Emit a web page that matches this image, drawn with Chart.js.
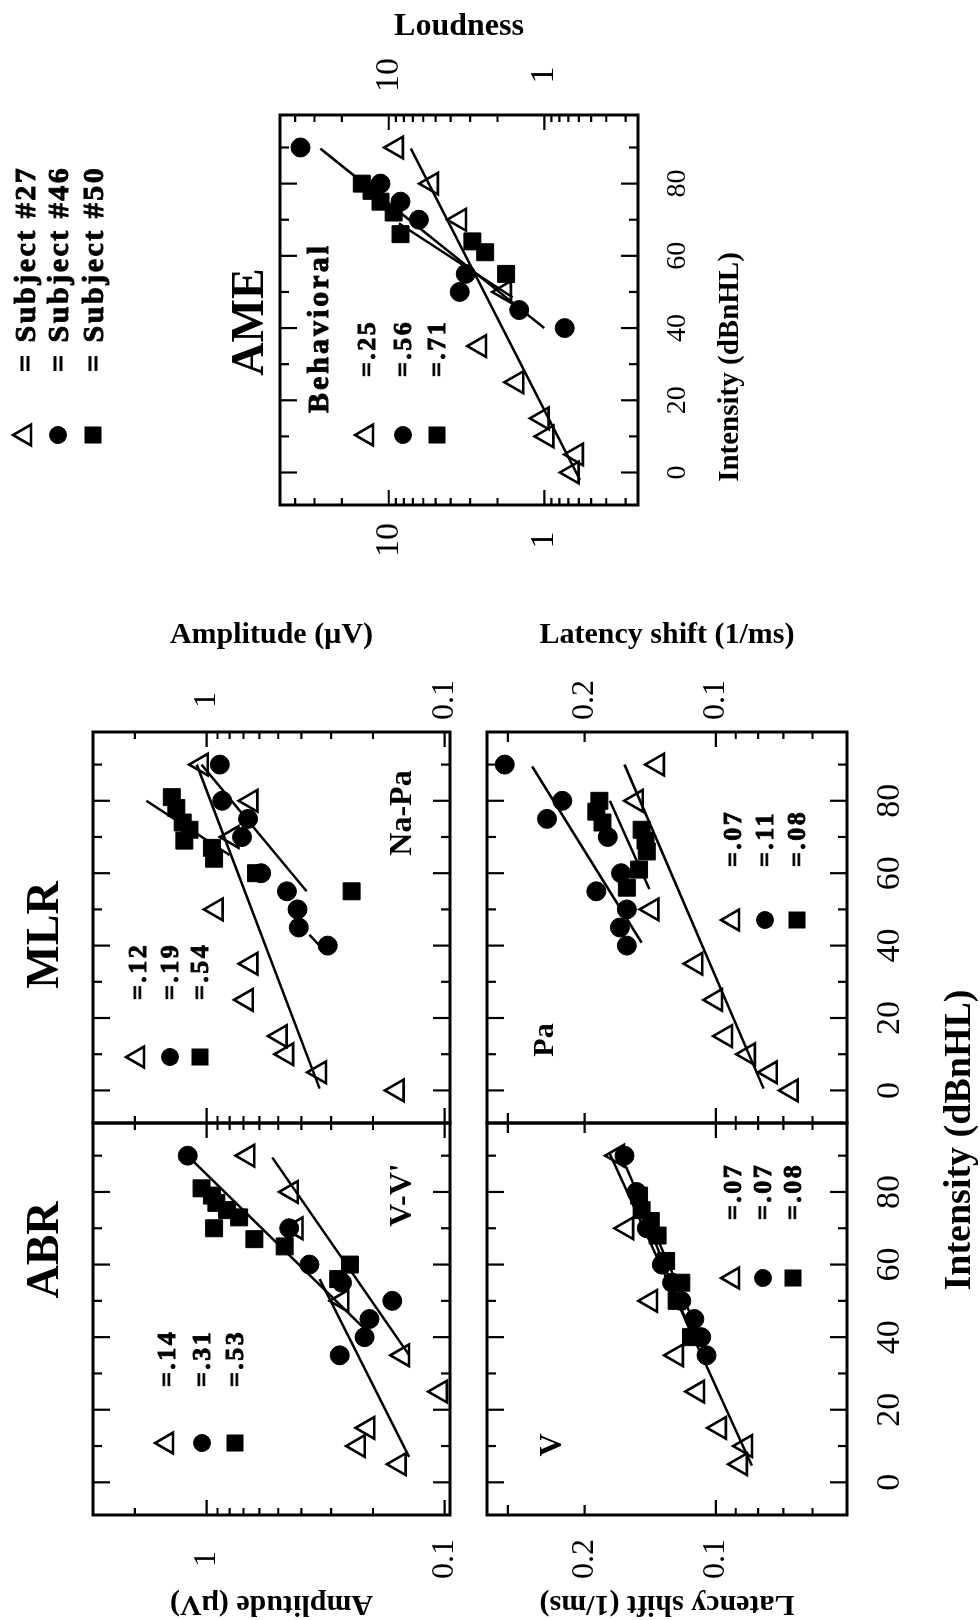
<!DOCTYPE html>
<html>
<head>
<meta charset="utf-8">
<script src="https://cdn.jsdelivr.net/npm/chart.js@4.4.1/dist/chart.umd.min.js"></script>
<style>
  html, body { margin: 0; padding: 0; background: #fff; overflow: hidden; width: 980px; height: 1620px; }
  /* the figure is laid out upright (1620 x 980) and turned a quarter turn, like the scan */
  #fig { position: absolute; left: 0; top: 0; width: 1620px; height: 980px; background: #fff;
         transform-origin: 0 0; transform: translateY(1620px) rotate(-90deg);
         font-family: "Liberation Serif", "Times New Roman", serif; color: #000; }
  #fig canvas { position: absolute; }
  .t { position: absolute; white-space: nowrap; font-weight: bold; line-height: 1; }
  .heavy { -webkit-text-stroke: 0.9px #000; }
</style>
</head>
<body>
<div id="fig"></div>
<script>
// ---- values: intensity (dBnHL) and response ----
// ABR, V-V' amplitude (uV)
const abrTriX = [90, 80, 70, 50, 35, 25, 15, 10, 5];
const abrTriY = [0.67, 0.44, 0.42, 0.27, 0.15, 0.104, 0.21, 0.23, 0.155];
const abrCirX = [90, 70, 60, 55, 50, 45, 40, 35];
const abrCirY = [1.2, 0.45, 0.37, 0.27, 0.166, 0.207, 0.217, 0.276];
const abrSqX = [81, 79, 77, 75, 73, 70, 67, 65, 60, 56];
const abrSqY = [1.05, 0.95, 0.91, 0.82, 0.73, 0.93, 0.63, 0.47, 0.25, 0.28];
const abrFit1X = [89.5, 40], abrFit1Y = [1.18, 0.2];
const abrFit2X = [89.5, 35], abrFit2Y = [0.53, 0.141];
const abrFit3X = [56, 7], abrFit3Y = [0.335, 0.141];

// MLR, Na-Pa amplitude (uV)
const mlrTriX = [90, 80, 70, 50, 35, 25, 15, 10, 5, 0];
const mlrTriY = [1.05, 0.65, 0.78, 0.91, 0.65, 0.68, 0.49, 0.46, 0.335, 0.158];
const mlrCirX = [90, 80, 75, 70, 60, 55, 50, 45, 40];
const mlrCirY = [0.88, 0.86, 0.67, 0.71, 0.59, 0.46, 0.415, 0.41, 0.31];
const mlrSqX = [81, 78, 74, 72, 69, 67, 64, 60, 55];
const mlrSqY = [1.4, 1.34, 1.26, 1.18, 1.24, 0.95, 0.93, 0.62, 0.246];
const mlrFit1X = [90, 0.5], mlrFit1Y = [1.1, 0.335];
const mlrFit2X = [90, 55], mlrFit2Y = [1.05, 0.38];
const mlrFit3X = [80, 65], mlrFit3Y = [1.79, 0.8];
const mlrFit4X = [43, 38.6], mlrFit4Y = [0.37, 0.32];

// ABR wave V latency shift (1/ms)
const vTriX = [90, 70, 50, 35, 25, 15, 10, 5];
const vTriY = [0.168, 0.16, 0.141, 0.123, 0.11, 0.098, 0.0854, 0.0877];
const vCirX = [90, 80, 70, 60, 55, 50, 45, 40, 35];
const vCirY = [0.162, 0.152, 0.144, 0.133, 0.126, 0.12, 0.112, 0.108, 0.105];
const vSqX = [79, 75, 72, 68, 61, 55, 50, 40];
const vSqY = [0.15, 0.148, 0.141, 0.136, 0.13, 0.12, 0.123, 0.114];
const vFit1X = [90.5, 4.6], vFit1Y = [0.175, 0.0827];
const vFit2X = [90, 35], vFit2Y = [0.165, 0.104];
const vFit3X = [80, 40], vFit3Y = [0.153, 0.113];

// MLR wave Pa latency shift (1/ms)
const paTriX = [90, 80, 50, 35, 25, 15, 10, 5, 0];
const paTriY = [0.136, 0.152, 0.14, 0.111, 0.1, 0.0949, 0.0841, 0.0749, 0.0671];
const paCirX = [90, 80, 75, 70, 60, 55, 50, 45, 40];
const paCirY = [0.305, 0.225, 0.244, 0.177, 0.165, 0.188, 0.16, 0.166, 0.16];
const paSqX = [80, 77, 74, 72, 69, 66, 61, 56];
const paSqY = [0.185, 0.188, 0.182, 0.148, 0.145, 0.144, 0.15, 0.16];
const paFit1X = [89.5, 40.8], paFit1Y = [0.264, 0.148];
const paFit2X = [80, 55.6], paFit2Y = [0.175, 0.142];
const paFit3X = [90, 0.5], paFit3Y = [0.162, 0.0777];

// AME, behavioral loudness
const ameTriX = [90, 80, 70, 50, 35, 25, 15, 10, 5, 0];
const ameTriY = [8.9, 5.3, 3.5, 1.8, 2.6, 1.5, 1.03, 0.96, 0.62, 0.66];
const ameCirX = [90, 80, 75, 70, 55, 50, 45, 40];
const ameCirY = [36.9, 11.3, 8.4, 6.4, 3.2, 3.5, 1.45, 0.74];
const ameSqX = [80, 78, 75, 72, 66, 64, 61, 55];
const ameSqY = [14.9, 12.9, 11.3, 9.3, 8.4, 2.9, 2.4, 1.76];
const ameFit1X = [89.7, 40], ameFit1Y = [27.5, 1.0];
const ameFit2X = [89.7, -2], ameFit2Y = [7.2, 0.59];
const ameFit3X = [69, 48.5], ameFit3Y = [8.6, 1.6];

// ---- axes ----
const intensityTicks = [0, 20, 40, 60, 80];
const intensityMarks = [0, 10, 20, 30, 40, 50, 60, 70, 80, 90];
const amplitudeTicks = [1, 0.1], amplitudeLabels = ['1', '0.1'];
const latencyTicks = [0.2, 0.1], latencyLabels = ['0.2', '0.1'];
const loudnessTicks = [10, 1], loudnessLabels = ['10', '1'];

const FONT = '"Liberation Serif", "Times New Roman", serif';
Chart.defaults.font.family = FONT;
Chart.defaults.color = '#000';

const fig = document.getElementById('fig');
const pts = (xs, ys) => xs.map((x, i) => ({ x: x, y: ys[i] }));

function tri(xs, ys) {
  return { data: pts(xs, ys), showLine: false, pointStyle: 'triangle', pointRadius: 12.5,
           borderWidth: 2.6, borderColor: '#000', backgroundColor: 'rgba(0,0,0,0)', clip: false };
}
function dot(xs, ys) {
  return { data: pts(xs, ys), showLine: false, pointStyle: 'circle', pointRadius: 9.5,
           borderWidth: 1, borderColor: '#000', backgroundColor: '#000', clip: false };
}
function sq(xs, ys) {
  return { data: pts(xs, ys), showLine: false, pointStyle: 'rect', pointRadius: 12,
           borderWidth: 1, borderColor: '#000', backgroundColor: '#000', clip: false };
}
function fit(xs, ys) {
  return { data: pts(xs, ys), showLine: true, pointRadius: 0, borderWidth: 2.5,
           borderColor: '#000', fill: false };
}

// box and inward tick marks on all four sides
const frame = {
  id: 'frame',
  beforeDatasetsDraw(chart, args, o) {
    const { ctx, chartArea: a, scales } = chart;
    const ys = scales.y;
    ctx.save();
    ctx.strokeStyle = '#000';
    ctx.lineWidth = 2.2;
    ctx.beginPath();
    intensityMarks.forEach(v => {
      const x = scales.x.getPixelForValue(v);
      const len = v % 20 === 0 ? 17 : 9;
      ctx.moveTo(x, a.bottom); ctx.lineTo(x, a.bottom - len);
      ctx.moveTo(x, a.top); ctx.lineTo(x, a.top + len);
    });
    const e0 = Math.floor(Math.log10(ys.min)), e1 = Math.ceil(Math.log10(ys.max));
    for (let e = e0; e <= e1; e++) {
      for (let d = 1; d <= 9; d++) {
        const v = d * Math.pow(10, e);
        if (v < ys.min || v > ys.max) continue;
        const y = ys.getPixelForValue(v);
        const len = d === 1 ? 15 : (o.mid && o.mid.includes(d) ? 10 : 7);
        ctx.moveTo(a.left, y); ctx.lineTo(a.left + len, y);
        ctx.moveTo(a.right, y); ctx.lineTo(a.right - len, y);
      }
    }
    ctx.stroke();
    ctx.lineWidth = 3;
    ctx.strokeRect(a.left, a.top, a.right - a.left, a.bottom - a.top);
    ctx.restore();
  }
};

// fixed axis sizes, and no extra room asked for by the tick labels
function fixSize(s, w, h) {
  if (w !== null) s.width = w;
  if (h !== null) s.height = h;
  s.paddingTop = 0; s.paddingBottom = 0; s.paddingLeft = 0; s.paddingRight = 0;
}

const PAD = 6;
function logAxis(pos, width, range, vals, labels, pad, size, title) {
  return {
    type: 'logarithmic', position: pos, min: range[0], max: range[1], bounds: 'data',
    display: width > 0,
    afterFit: s => fixSize(s, width, null),
    afterBuildTicks: s => { s.ticks = vals.map(v => ({ value: v })); },
    ticks: { autoSkip: false, padding: pad, crossAlign: 'center', color: '#000',
             font: { size: size, family: FONT },
             callback: v => labels[vals.indexOf(v)] },
    grid: { display: false, drawTicks: false },
    border: { display: false },
    title: title ? { display: true, text: title.text, color: '#000', padding: { top: title.pad, bottom: 0 },
                     font: { size: title.size, weight: 'bold', family: FONT } } : { display: false }
  };
}

function panel(p) {
  const cl = p.L - (p.left || PAD), ct = p.T - PAD;
  const cr = p.R + (p.right || PAD), cb = p.B + (p.bottom || PAD);
  const cv = document.createElement('canvas');
  cv.width = cr - cl; cv.height = cb - ct;
  cv.style.left = cl + 'px'; cv.style.top = ct + 'px';
  fig.appendChild(cv);
  const yl = p.yl || {}, yr = p.yr || {};
  new Chart(cv, {
    type: 'scatter',
    data: { datasets: p.sets },
    options: {
      responsive: false, animation: false, devicePixelRatio: 1, events: [],
      layout: { autoPadding: false,
                padding: { left: p.left ? 0 : PAD, right: p.right ? 0 : PAD, top: PAD, bottom: p.bottom ? 0 : PAD } },
      plugins: { legend: { display: false }, tooltip: { enabled: false }, frame: { mid: p.mid } },
      scales: {
        x: {
          type: 'linear', position: 'bottom', min: -9, max: 99, bounds: 'data',
          display: (p.bottom || 0) > 0,
          afterFit: s => fixSize(s, null, p.bottom || 0),
          afterBuildTicks: s => { s.ticks = intensityTicks.map(v => ({ value: v })); },
          ticks: { autoSkip: false, maxRotation: 0, padding: p.xPad || 0, color: '#000',
                   font: { size: p.xSize || 34, family: FONT }, callback: v => String(v) },
          grid: { display: false, drawTicks: false },
          border: { display: false }
        },
        y: logAxis('left', p.left || 0, p.range, p.vals, p.labels, yl.pad || 0, yl.size || 32, yl.title),
        y2: logAxis('right', p.right || 0, p.range, p.vals, p.labels, yr.pad || 0, yr.size || 32, yr.title)
      }
    },
    plugins: [frame]
  });
}

const ampRange = [0.095, 3.0], latRange = [0.05, 0.335], loudRange = [0.25, 50];

panel({ L: 105, T: 93, R: 497, B: 450, left: 105, range: ampRange, vals: amplitudeTicks, labels: amplitudeLabels,
        yl: { pad: 24, size: 32, title: { text: 'Amplitude (\u00b5V)', size: 30, pad: -2 } },
        sets: [tri(abrTriX, abrTriY), dot(abrCirX, abrCirY), sq(abrSqX, abrSqY),
               fit(abrFit1X, abrFit1Y), fit(abrFit2X, abrFit2Y), fit(abrFit3X, abrFit3Y)] });

panel({ L: 497, T: 93, R: 888, B: 450, right: 115, range: ampRange, vals: amplitudeTicks, labels: amplitudeLabels,
        yr: { pad: 12, size: 32, title: { text: 'Amplitude (\u00b5V)', size: 30, pad: 0 } },
        sets: [tri(mlrTriX, mlrTriY), dot(mlrCirX, mlrCirY), sq(mlrSqX, mlrSqY),
               fit(mlrFit1X, mlrFit1Y), fit(mlrFit2X, mlrFit2Y), fit(mlrFit3X, mlrFit3Y),
               fit(mlrFit4X, mlrFit4Y)] });

panel({ L: 105, T: 487, R: 497, B: 847, left: 105, bottom: 60, xPad: 23, range: latRange, vals: latencyTicks,
        labels: latencyLabels, mid: [2, 3],
        yl: { pad: 24, size: 32, title: { text: 'Latency shift (1/ms)', size: 30, pad: -2 } },
        sets: [tri(vTriX, vTriY), dot(vCirX, vCirY), sq(vSqX, vSqY),
               fit(vFit1X, vFit1Y), fit(vFit2X, vFit2Y), fit(vFit3X, vFit3Y)] });

panel({ L: 497, T: 487, R: 888, B: 847, right: 115, bottom: 60, xPad: 23, range: latRange, vals: latencyTicks,
        labels: latencyLabels, mid: [2, 3],
        yr: { pad: 12, size: 32, title: { text: 'Latency shift (1/ms)', size: 30, pad: 0 } },
        sets: [tri(paTriX, paTriY), dot(paCirX, paCirY), sq(paSqX, paSqY),
               fit(paFit1X, paFit1Y), fit(paFit2X, paFit2Y), fit(paFit3X, paFit3Y)] });

panel({ L: 1115, T: 280, R: 1505, B: 638, left: 60, right: 107, bottom: 60, xPad: 23, xSize: 28,
        range: loudRange, vals: loudnessTicks, labels: loudnessLabels,
        yl: { pad: 18, size: 34 },
        yr: { pad: 23, size: 34, title: { text: 'Loudness', size: 32, pad: 0 } },
        sets: [tri(ameTriX, ameTriY), dot(ameCirX, ameCirY), sq(ameSqX, ameSqY),
               fit(ameFit1X, ameFit1Y), fit(ameFit2X, ameFit2Y), fit(ameFit3X, ameFit3Y)] });

// ---- text and key symbols ----
function text(str, x, y, size, opts) {
  opts = opts || {};
  const d = document.createElement('div');
  d.className = 't' + (opts.heavy ? ' heavy' : '');
  d.textContent = str;
  d.style.left = x + 'px';
  d.style.top = y + 'px';
  d.style.fontSize = size + 'px';
  if (opts.ls) d.style.letterSpacing = opts.ls + 'px';
  d.style.transform = opts.leftAlign ? 'translateY(-50%)' : 'translate(-50%, -50%)';
  fig.appendChild(d);
}

const svgNS = 'http://www.w3.org/2000/svg';
const svg = document.createElementNS(svgNS, 'svg');
svg.setAttribute('width', 1620); svg.setAttribute('height', 980);
svg.style.position = 'absolute'; svg.style.left = '0'; svg.style.top = '0';
fig.appendChild(svg);
function symbol(kind, x, y) {
  let el;
  if (kind === 'tri') {
    el = document.createElementNS(svgNS, 'polygon');
    el.setAttribute('points', `${x},${y - 12} ${x - 10.4},${y + 6} ${x + 10.4},${y + 6}`);
    el.setAttribute('fill', 'none'); el.setAttribute('stroke', '#000'); el.setAttribute('stroke-width', 2.6);
  } else if (kind === 'dot') {
    el = document.createElementNS(svgNS, 'circle');
    el.setAttribute('cx', x); el.setAttribute('cy', y); el.setAttribute('r', 9);
  } else {
    el = document.createElementNS(svgNS, 'rect');
    el.setAttribute('x', x - 8.5); el.setAttribute('y', y - 8.5);
    el.setAttribute('width', 17); el.setAttribute('height', 17);
  }
  svg.appendChild(el);
}
function key(x, tx, rows, labels, size, ls) {
  ['tri', 'dot', 'sq'].forEach((k, i) => {
    symbol(k, x, rows[i]);
    text(labels[i], tx, rows[i], size, { leftAlign: true, ls: ls, heavy: true });
  });
}

text('ABR', 370, 43, 46);
text('MLR', 685, 43, 46);
text('AME', 1298, 248, 46);

key(1185, 1248, [25, 58, 93], ['= Subject #27', '= Subject #46', '= Subject #50'], 30, 2.5);
key(177, 233, [167, 202, 235], ['=.14', '=.31', '=.53'], 26, 2.5);
key(563, 620, [138, 170, 200], ['=.12', '=.19', '=.54'], 26, 2.5);
key(342, 400, [733, 763, 793], ['=.07', '=.07', '=.08'], 26, 2.5);
key(700, 753, [733, 765, 797], ['=.07', '=.11', '=.08'], 26, 2.5);
key(1185, 1243, [367, 403, 437], ['=.25', '=.56', '=.71'], 26, 2.5);

text("V-V'", 425, 400, 32);
text('Na-Pa', 807, 400, 32);
text('V', 175, 550, 32);
text('Pa', 580, 543, 30);
text('Behavioral', 1292, 318, 30, { ls: 3, heavy: true });

text('Intensity (dBnHL)', 480, 957, 38);
text('Intensity (dBnHL)', 1253, 728, 29);
</script>
</body>
</html>
